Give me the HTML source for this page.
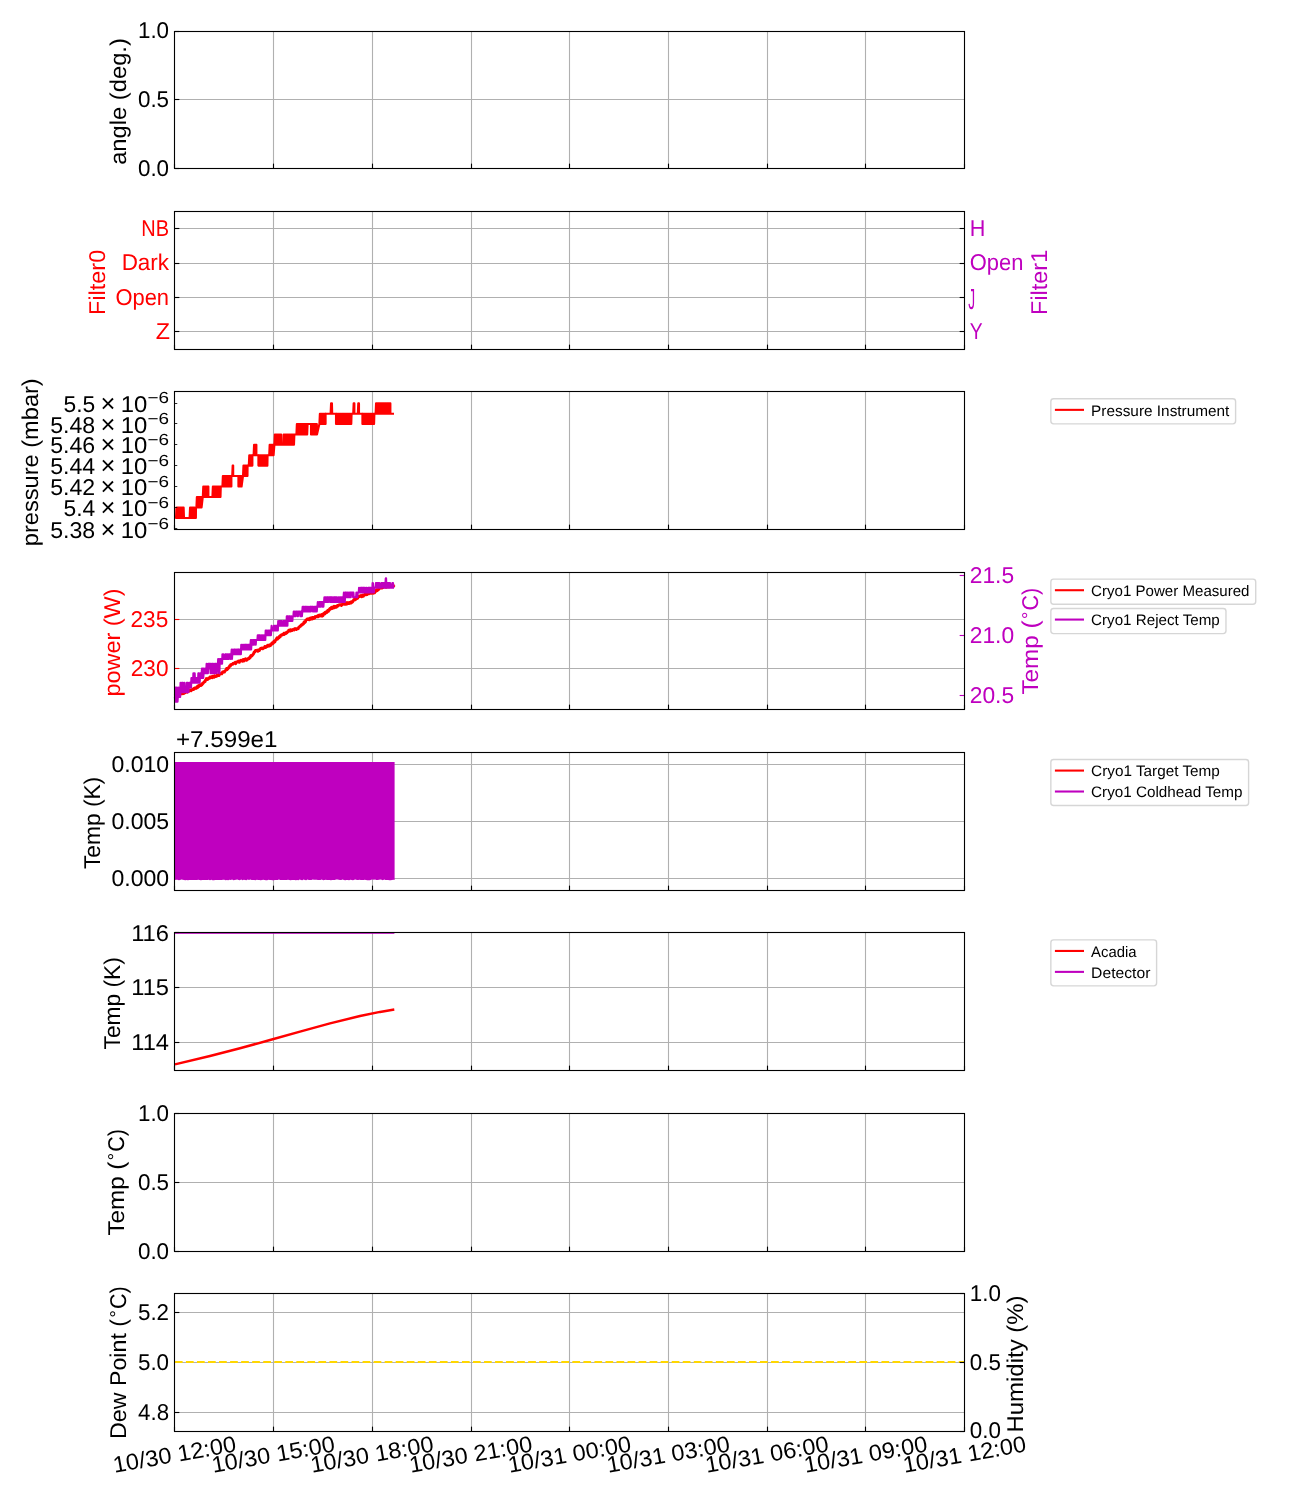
<!DOCTYPE html>
<html lang="en"><head><meta charset="utf-8"><title>Instrument telemetry</title>
<style>
html,body{margin:0;padding:0;background:#fff}
svg{display:block;will-change:transform}
svg text{font-family:"Liberation Sans",sans-serif;text-rendering:geometricPrecision}
</style></head><body>
<svg width="1300" height="1500" viewBox="0 0 1300 1500">
<rect width="1300" height="1500" fill="#fff"/>
<g id="axes">
<line x1="273.5" y1="31.5" x2="273.5" y2="168.5" stroke="#b0b0b0" stroke-width="1.11"/>
<line x1="372.5" y1="31.5" x2="372.5" y2="168.5" stroke="#b0b0b0" stroke-width="1.11"/>
<line x1="471.5" y1="31.5" x2="471.5" y2="168.5" stroke="#b0b0b0" stroke-width="1.11"/>
<line x1="569.5" y1="31.5" x2="569.5" y2="168.5" stroke="#b0b0b0" stroke-width="1.11"/>
<line x1="668.5" y1="31.5" x2="668.5" y2="168.5" stroke="#b0b0b0" stroke-width="1.11"/>
<line x1="767.5" y1="31.5" x2="767.5" y2="168.5" stroke="#b0b0b0" stroke-width="1.11"/>
<line x1="865.5" y1="31.5" x2="865.5" y2="168.5" stroke="#b0b0b0" stroke-width="1.11"/>
<line x1="174.5" y1="99.5" x2="964.5" y2="99.5" stroke="#b0b0b0" stroke-width="1.11"/>
<line x1="174.5" y1="168.5" x2="174.5" y2="163.64" stroke="#000" stroke-width="1.11"/>
<line x1="273.5" y1="168.5" x2="273.5" y2="163.64" stroke="#000" stroke-width="1.11"/>
<line x1="372.5" y1="168.5" x2="372.5" y2="163.64" stroke="#000" stroke-width="1.11"/>
<line x1="471.5" y1="168.5" x2="471.5" y2="163.64" stroke="#000" stroke-width="1.11"/>
<line x1="569.5" y1="168.5" x2="569.5" y2="163.64" stroke="#000" stroke-width="1.11"/>
<line x1="668.5" y1="168.5" x2="668.5" y2="163.64" stroke="#000" stroke-width="1.11"/>
<line x1="767.5" y1="168.5" x2="767.5" y2="163.64" stroke="#000" stroke-width="1.11"/>
<line x1="865.5" y1="168.5" x2="865.5" y2="163.64" stroke="#000" stroke-width="1.11"/>
<line x1="964.5" y1="168.5" x2="964.5" y2="163.64" stroke="#000" stroke-width="1.11"/>
<line x1="174.5" y1="31.5" x2="179.36" y2="31.5" stroke="#000" stroke-width="1.11"/>
<line x1="174.5" y1="99.5" x2="179.36" y2="99.5" stroke="#000" stroke-width="1.11"/>
<line x1="174.5" y1="168.5" x2="179.36" y2="168.5" stroke="#000" stroke-width="1.11"/>
<rect x="174.5" y="31.5" width="790.0" height="137" fill="none" stroke="#000" stroke-width="1.11"/>
<line x1="273.5" y1="211.5" x2="273.5" y2="349.5" stroke="#b0b0b0" stroke-width="1.11"/>
<line x1="372.5" y1="211.5" x2="372.5" y2="349.5" stroke="#b0b0b0" stroke-width="1.11"/>
<line x1="471.5" y1="211.5" x2="471.5" y2="349.5" stroke="#b0b0b0" stroke-width="1.11"/>
<line x1="569.5" y1="211.5" x2="569.5" y2="349.5" stroke="#b0b0b0" stroke-width="1.11"/>
<line x1="668.5" y1="211.5" x2="668.5" y2="349.5" stroke="#b0b0b0" stroke-width="1.11"/>
<line x1="767.5" y1="211.5" x2="767.5" y2="349.5" stroke="#b0b0b0" stroke-width="1.11"/>
<line x1="865.5" y1="211.5" x2="865.5" y2="349.5" stroke="#b0b0b0" stroke-width="1.11"/>
<line x1="174.5" y1="228.5" x2="964.5" y2="228.5" stroke="#b0b0b0" stroke-width="1.11"/>
<line x1="174.5" y1="263.5" x2="964.5" y2="263.5" stroke="#b0b0b0" stroke-width="1.11"/>
<line x1="174.5" y1="297.5" x2="964.5" y2="297.5" stroke="#b0b0b0" stroke-width="1.11"/>
<line x1="174.5" y1="331.5" x2="964.5" y2="331.5" stroke="#b0b0b0" stroke-width="1.11"/>
<line x1="174.5" y1="349.5" x2="174.5" y2="344.64" stroke="#000" stroke-width="1.11"/>
<line x1="273.5" y1="349.5" x2="273.5" y2="344.64" stroke="#000" stroke-width="1.11"/>
<line x1="372.5" y1="349.5" x2="372.5" y2="344.64" stroke="#000" stroke-width="1.11"/>
<line x1="471.5" y1="349.5" x2="471.5" y2="344.64" stroke="#000" stroke-width="1.11"/>
<line x1="569.5" y1="349.5" x2="569.5" y2="344.64" stroke="#000" stroke-width="1.11"/>
<line x1="668.5" y1="349.5" x2="668.5" y2="344.64" stroke="#000" stroke-width="1.11"/>
<line x1="767.5" y1="349.5" x2="767.5" y2="344.64" stroke="#000" stroke-width="1.11"/>
<line x1="865.5" y1="349.5" x2="865.5" y2="344.64" stroke="#000" stroke-width="1.11"/>
<line x1="964.5" y1="349.5" x2="964.5" y2="344.64" stroke="#000" stroke-width="1.11"/>
<line x1="174.5" y1="228.5" x2="179.36" y2="228.5" stroke="#000" stroke-width="1.11"/>
<line x1="174.5" y1="263.5" x2="179.36" y2="263.5" stroke="#000" stroke-width="1.11"/>
<line x1="174.5" y1="297.5" x2="179.36" y2="297.5" stroke="#000" stroke-width="1.11"/>
<line x1="174.5" y1="331.5" x2="179.36" y2="331.5" stroke="#000" stroke-width="1.11"/>
<line x1="964.5" y1="228.5" x2="959.64" y2="228.5" stroke="#000" stroke-width="1.11"/>
<line x1="964.5" y1="263.5" x2="959.64" y2="263.5" stroke="#000" stroke-width="1.11"/>
<line x1="964.5" y1="297.5" x2="959.64" y2="297.5" stroke="#000" stroke-width="1.11"/>
<line x1="964.5" y1="331.5" x2="959.64" y2="331.5" stroke="#000" stroke-width="1.11"/>
<rect x="174.5" y="211.5" width="790.0" height="138" fill="none" stroke="#000" stroke-width="1.11"/>
<line x1="273.5" y1="391.5" x2="273.5" y2="529.5" stroke="#b0b0b0" stroke-width="1.11"/>
<line x1="372.5" y1="391.5" x2="372.5" y2="529.5" stroke="#b0b0b0" stroke-width="1.11"/>
<line x1="471.5" y1="391.5" x2="471.5" y2="529.5" stroke="#b0b0b0" stroke-width="1.11"/>
<line x1="569.5" y1="391.5" x2="569.5" y2="529.5" stroke="#b0b0b0" stroke-width="1.11"/>
<line x1="668.5" y1="391.5" x2="668.5" y2="529.5" stroke="#b0b0b0" stroke-width="1.11"/>
<line x1="767.5" y1="391.5" x2="767.5" y2="529.5" stroke="#b0b0b0" stroke-width="1.11"/>
<line x1="865.5" y1="391.5" x2="865.5" y2="529.5" stroke="#b0b0b0" stroke-width="1.11"/>
<path d="M175.2,517.97 L176,517.97 L176.45,507.46 L176.9,517.97 L177.35,507.46 L177.8,517.97 L178.25,507.46 L178.7,517.97 L179.15,507.46 L179.6,517.97 L180.05,507.46 L180.5,517.97 L180.95,507.46 L181.4,517.97 L181.85,507.46 L182.3,517.97 L182.75,507.46 L183.2,517.97 L183.65,507.46 L184,517.97 L184,517.97 L189.6,517.97 L189.6,517.97 L190.05,507.46 L190.5,517.97 L190.95,507.46 L191.4,517.97 L191.85,507.46 L192.3,517.97 L192.75,507.46 L193.2,517.97 L193.65,507.46 L194.1,517.97 L194.55,507.46 L195,517.97 L195.45,507.46 L195.9,517.97 L196,507.46 L196.4,507.46 L196.85,496.97 L197.3,507.46 L197.75,496.97 L198.2,507.46 L198.65,496.97 L199.1,507.46 L199.55,496.97 L200,507.46 L200.45,496.97 L200.9,507.46 L201.35,496.97 L201.6,507.46 L202.8,496.97 L203.25,486.49 L203.7,496.97 L204.15,486.49 L204.6,496.97 L205.05,486.49 L205.5,496.97 L205.95,486.49 L206.4,496.97 L206.85,486.49 L207.3,496.97 L207.75,486.49 L208.2,496.97 L208.4,486.49 L208.4,496.97 L212.4,496.97 L212.4,496.97 L212.85,486.49 L213.3,496.97 L213.75,486.49 L214.2,496.97 L214.65,486.49 L215.1,496.97 L215.55,486.49 L216,496.97 L216.45,486.49 L216.9,496.97 L217.35,486.49 L217.8,496.97 L218.25,486.49 L218.7,496.97 L219.15,486.49 L219.6,496.97 L220.05,486.49 L220.5,496.97 L220.8,486.49 L222.4,486.49 L222.85,476.04 L223.3,486.49 L223.75,476.04 L224.2,486.49 L224.65,476.04 L225.1,486.49 L225.55,476.04 L226,486.49 L226.45,476.04 L226.9,486.49 L227.35,476.04 L227.8,486.49 L228.25,476.04 L228.7,486.49 L229.15,476.04 L229.6,486.49 L230.05,476.04 L230.5,486.49 L230.95,476.04 L231.4,486.49 L231.4,476.04 L231.4,476.04 L232.2,476.04 L232.2,476.04 L232.65,465.61 L233.1,476.04 L233.2,465.61 L233.2,476.04 L238.4,476.04 L238.4,486.49 L238.85,476.04 L239.3,486.49 L239.75,476.04 L240.2,486.49 L240.65,476.04 L241.1,486.49 L241.55,476.04 L241.6,486.49 L243,476.04 L243.45,465.61 L243.9,476.04 L244.35,465.61 L244.8,476.04 L245.25,465.61 L245.7,476.04 L246.15,465.61 L246.6,476.04 L247.05,465.61 L247.5,476.04 L247.6,465.61 L248.8,465.61 L249.25,455.19 L249.7,465.61 L250.15,455.19 L250.6,465.61 L251.05,455.19 L251.5,465.61 L251.95,455.19 L252.4,465.61 L252.4,455.19 L252.4,455.19 L253.6,455.19 L253.6,455.19 L254.05,444.8 L254.5,455.19 L254.95,444.8 L255.4,455.19 L255.85,444.8 L256.3,455.19 L256.4,444.8 L256.4,455.19 L258.4,455.19 L258.4,465.61 L258.85,455.19 L259.3,465.61 L259.75,455.19 L260.2,465.61 L260.65,455.19 L261.1,465.61 L261.55,455.19 L262,465.61 L262.45,455.19 L262.9,465.61 L263.35,455.19 L263.8,465.61 L264.25,455.19 L264.7,465.61 L265.15,455.19 L265.6,465.61 L266.05,455.19 L266.5,465.61 L266.95,455.19 L267.4,465.61 L267.6,455.19 L269.2,455.19 L269.65,444.8 L270.1,455.19 L270.55,444.8 L271,455.19 L271.45,444.8 L271.9,455.19 L272.35,444.8 L272.8,455.19 L273.25,444.8 L273.6,455.19 L274.4,444.8 L274.85,434.42 L275.3,444.8 L275.75,434.42 L276.2,444.8 L276.65,434.42 L277.1,444.8 L277.55,434.42 L278,444.8 L278.45,434.42 L278.9,444.8 L279.35,434.42 L279.8,444.8 L280.25,434.42 L280.7,444.8 L281.15,434.42 L281.2,444.8 L283.2,444.8 L283.65,434.42 L284.1,444.8 L284.55,434.42 L285,444.8 L285.45,434.42 L285.9,444.8 L286.35,434.42 L286.8,444.8 L287.25,434.42 L287.7,444.8 L288.15,434.42 L288.6,444.8 L289.05,434.42 L289.5,444.8 L289.95,434.42 L290.4,444.8 L290.85,434.42 L291.3,444.8 L291.75,434.42 L292.2,444.8 L292.65,434.42 L293.1,444.8 L293.55,434.42 L294,444.8 L294.4,434.42 L296.4,434.42 L296.85,424.06 L297.3,434.42 L297.75,424.06 L298.2,434.42 L298.65,424.06 L299.1,434.42 L299.55,424.06 L300,434.42 L300.45,424.06 L300.9,434.42 L301.35,424.06 L301.8,434.42 L302.25,424.06 L302.7,434.42 L303.15,424.06 L303.6,434.42 L304.05,424.06 L304.5,434.42 L304.95,424.06 L305.4,434.42 L305.85,424.06 L306.3,434.42 L306.75,424.06 L307.2,434.42 L307.6,424.06 L307.6,424.06 L311,424.06 L311,434.42 L311.45,424.06 L311.9,434.42 L312.35,424.06 L312.8,434.42 L313.25,424.06 L313.7,434.42 L314.15,424.06 L314.6,434.42 L315.05,424.06 L315.5,434.42 L315.95,424.06 L316.4,434.42 L316.85,424.06 L317,434.42 L319.4,424.06 L319.85,413.72 L320.3,424.06 L320.75,413.72 L321.2,424.06 L321.65,413.72 L322.1,424.06 L322.55,413.72 L323,424.06 L323.45,413.72 L323.9,424.06 L324.35,413.72 L324.8,424.06 L325.25,413.72 L325.6,424.06 L325.6,413.72 L330.6,413.72 L330.6,413.72 L331.05,403.4 L331.5,413.72 L331.95,403.4 L332.2,413.72 L332.2,413.72 L336,413.72 L336,424.06 L336.45,413.72 L336.9,424.06 L337.35,413.72 L337.8,424.06 L338.25,413.72 L338.7,424.06 L339.15,413.72 L339.6,424.06 L340.05,413.72 L340.5,424.06 L340.95,413.72 L341.4,424.06 L341.85,413.72 L342.3,424.06 L342.75,413.72 L343.2,424.06 L343.65,413.72 L344.1,424.06 L344.55,413.72 L345,424.06 L345.45,413.72 L345.9,424.06 L346.35,413.72 L346.8,424.06 L347.25,413.72 L347.7,424.06 L348.15,413.72 L348.6,424.06 L349.05,413.72 L349.5,424.06 L349.95,413.72 L350.4,424.06 L350.85,413.72 L351.3,424.06 L351.6,413.72 L351.6,413.72 L353.2,413.72 L353.2,413.72 L353.65,403.4 L354.1,413.72 L354.4,403.4 L354.4,413.72 L357.8,413.72 L357.8,413.72 L358.25,403.4 L358.7,413.72 L359,403.4 L359,413.72 L362.4,413.72 L362.4,424.06 L362.85,413.72 L363.3,424.06 L363.75,413.72 L364.2,424.06 L364.65,413.72 L365.1,424.06 L365.55,413.72 L366,424.06 L366.45,413.72 L366.9,424.06 L367.35,413.72 L367.8,424.06 L368.25,413.72 L368.7,424.06 L369.15,413.72 L369.6,424.06 L370.05,413.72 L370.5,424.06 L370.95,413.72 L371.4,424.06 L371.85,413.72 L372.3,424.06 L372.75,413.72 L373.2,424.06 L373.65,413.72 L374.1,424.06 L374.4,413.72 L375.6,413.72 L376.05,403.4 L376.5,413.72 L376.95,403.4 L377.4,413.72 L377.85,403.4 L378.3,413.72 L378.75,403.4 L379.2,413.72 L379.65,403.4 L380.1,413.72 L380.55,403.4 L381,413.72 L381.45,403.4 L381.9,413.72 L382.35,403.4 L382.8,413.72 L383.25,403.4 L383.7,413.72 L384.15,403.4 L384.6,413.72 L385.05,403.4 L385.5,413.72 L385.95,403.4 L386.4,413.72 L386.85,403.4 L387.3,413.72 L387.75,403.4 L388.2,413.72 L388.65,403.4 L389.1,413.72 L389.55,403.4 L390,413.72 L390.4,403.4 L390.4,413.72 L394,413.72" fill="none" stroke="#ff0000" stroke-width="2.08" stroke-linejoin="round" stroke-linecap="butt"/>
<line x1="174.5" y1="529.5" x2="174.5" y2="524.64" stroke="#000" stroke-width="1.11"/>
<line x1="273.5" y1="529.5" x2="273.5" y2="524.64" stroke="#000" stroke-width="1.11"/>
<line x1="372.5" y1="529.5" x2="372.5" y2="524.64" stroke="#000" stroke-width="1.11"/>
<line x1="471.5" y1="529.5" x2="471.5" y2="524.64" stroke="#000" stroke-width="1.11"/>
<line x1="569.5" y1="529.5" x2="569.5" y2="524.64" stroke="#000" stroke-width="1.11"/>
<line x1="668.5" y1="529.5" x2="668.5" y2="524.64" stroke="#000" stroke-width="1.11"/>
<line x1="767.5" y1="529.5" x2="767.5" y2="524.64" stroke="#000" stroke-width="1.11"/>
<line x1="865.5" y1="529.5" x2="865.5" y2="524.64" stroke="#000" stroke-width="1.11"/>
<line x1="964.5" y1="529.5" x2="964.5" y2="524.64" stroke="#000" stroke-width="1.11"/>
<line x1="174.5" y1="403.5" x2="177.28" y2="403.5" stroke="#000" stroke-width="0.83"/>
<line x1="174.5" y1="423.5" x2="177.28" y2="423.5" stroke="#000" stroke-width="0.83"/>
<line x1="174.5" y1="444.5" x2="177.28" y2="444.5" stroke="#000" stroke-width="0.83"/>
<line x1="174.5" y1="465.5" x2="177.28" y2="465.5" stroke="#000" stroke-width="0.83"/>
<line x1="174.5" y1="486.5" x2="177.28" y2="486.5" stroke="#000" stroke-width="0.83"/>
<line x1="174.5" y1="507.5" x2="177.28" y2="507.5" stroke="#000" stroke-width="0.83"/>
<line x1="174.5" y1="528.5" x2="177.28" y2="528.5" stroke="#000" stroke-width="0.83"/>
<rect x="174.5" y="391.5" width="790.0" height="138" fill="none" stroke="#000" stroke-width="1.11"/>
<line x1="273.5" y1="572.5" x2="273.5" y2="709.5" stroke="#b0b0b0" stroke-width="1.11"/>
<line x1="372.5" y1="572.5" x2="372.5" y2="709.5" stroke="#b0b0b0" stroke-width="1.11"/>
<line x1="471.5" y1="572.5" x2="471.5" y2="709.5" stroke="#b0b0b0" stroke-width="1.11"/>
<line x1="569.5" y1="572.5" x2="569.5" y2="709.5" stroke="#b0b0b0" stroke-width="1.11"/>
<line x1="668.5" y1="572.5" x2="668.5" y2="709.5" stroke="#b0b0b0" stroke-width="1.11"/>
<line x1="767.5" y1="572.5" x2="767.5" y2="709.5" stroke="#b0b0b0" stroke-width="1.11"/>
<line x1="865.5" y1="572.5" x2="865.5" y2="709.5" stroke="#b0b0b0" stroke-width="1.11"/>
<line x1="174.5" y1="619.5" x2="964.5" y2="619.5" stroke="#b0b0b0" stroke-width="1.11"/>
<line x1="174.5" y1="668.5" x2="964.5" y2="668.5" stroke="#b0b0b0" stroke-width="1.11"/>
<path d="M174.9,696 L175.35,695.47 L175.8,696.08 L176.25,694.85 L176.7,695.4 L177.15,694.87 L177.6,694.1 L178.05,694.63 L178.5,693.59 L178.95,694.02 L179.4,693.21 L179.85,693.1 L180.3,693.53 L180.75,694.08 L181.2,692.74 L181.65,692.77 L182.1,693.32 L182.55,693.73 L183,692.96 L183.45,692.51 L183.9,693.36 L184.35,691.64 L184.8,692.88 L185.25,691.78 L185.7,691.39 L186.15,691.21 L186.6,691.39 L187.05,692.12 L187.5,690.9 L187.95,691.44 L188.4,691.4 L188.85,690.81 L189.3,690.97 L189.75,690 L190.2,689.86 L190.65,689.97 L191.1,690.64 L191.55,689.99 L192,689.55 L192.45,689.77 L192.9,689.3 L193.35,688.8 L193.8,689.4 L194.25,688.99 L194.7,687.98 L195.15,688.3 L195.6,687.97 L196.05,688.32 L196.5,687.83 L196.95,686.84 L197.4,687.77 L197.85,686.06 L198.3,686.33 L198.75,686.67 L199.2,685.39 L199.65,685.72 L200.1,684.72 L200.55,685.54 L201,685.47 L201.45,684.87 L201.9,684.89 L202.35,683.45 L202.8,683.6 L203.25,682.94 L203.7,682.43 L204.15,681.73 L204.6,681.89 L205.05,681.57 L205.5,680.28 L205.95,680.12 L206.4,678.6 L206.85,679.2 L207.3,678.93 L207.75,679.37 L208.2,678.94 L208.65,677.89 L209.1,677.92 L209.55,678.26 L210,677.02 L210.45,677.63 L210.9,676.99 L211.35,676.77 L211.8,676.53 L212.25,677.59 L212.7,676.37 L213.15,676.43 L213.6,676.53 L214.05,677.21 L214.5,675.71 L214.95,676.17 L215.4,676.17 L215.85,676.57 L216.3,676.29 L216.75,676.19 L217.2,675.03 L217.65,675.09 L218.1,674.82 L218.55,675.55 L219,675.5 L219.45,673.96 L219.9,673.83 L220.35,673.76 L220.8,673.59 L221.25,673.84 L221.7,673.85 L222.15,672.89 L222.6,672.05 L223.05,672.34 L223.5,671.85 L223.95,671.78 L224.4,672.03 L224.85,671.18 L225.3,670.48 L225.75,670.25 L226.2,669.94 L226.65,668.48 L227.1,669.51 L227.55,668.9 L228,668.65 L228.45,668.12 L228.9,667.02 L229.35,666.63 L229.8,665.72 L230.25,666.21 L230.7,664.84 L231.15,664.54 L231.6,664.55 L232.05,664.25 L232.5,664.33 L232.95,663.61 L233.4,663.3 L233.85,663.33 L234.3,663.02 L234.75,663.24 L235.2,662.44 L235.65,663.66 L236.1,662.99 L236.55,661.98 L237,661.93 L237.45,661.87 L237.9,661.67 L238.35,661.05 L238.8,662.16 L239.25,662.28 L239.7,661.26 L240.15,661.16 L240.6,660.36 L241.05,660.27 L241.5,660.55 L241.95,660.3 L242.4,661.13 L242.85,659.88 L243.3,659.52 L243.75,660.97 L244.2,660.13 L244.65,659.36 L245.1,659.91 L245.55,658.91 L246,659.63 L246.45,660.28 L246.9,659.96 L247.35,659.55 L247.8,658.69 L248.25,658.74 L248.7,658.11 L249.15,658.63 L249.6,657.72 L250.05,657.63 L250.5,656.36 L250.95,655.68 L251.4,656.17 L251.85,655.96 L252.3,655.23 L252.75,654.65 L253.2,654.16 L253.65,653.52 L254.1,652.15 L254.55,652.14 L255,651.35 L255.45,650.6 L255.9,650.39 L256.35,650.61 L256.8,650.38 L257.25,650.91 L257.7,651.16 L258.15,650.09 L258.6,650.72 L259.05,650.6 L259.5,650.34 L259.95,649.13 L260.4,648.68 L260.85,648.49 L261.3,648.24 L261.75,648.05 L262.2,648.56 L262.65,648.83 L263.1,648.53 L263.55,647.71 L264,647.81 L264.45,647.86 L264.9,646.45 L265.35,647.23 L265.8,647.45 L266.25,647.04 L266.7,646.79 L267.15,646.12 L267.6,645.42 L268.05,646.26 L268.5,645.28 L268.95,645.88 L269.4,645.97 L269.85,644.79 L270.3,644.61 L270.75,645.33 L271.2,644.76 L271.65,643.59 L272.1,643.07 L272.55,642.66 L273,643.49 L273.45,642.87 L273.9,641.3 L274.35,642.01 L274.8,641.82 L275.25,640.82 L275.7,639.85 L276.15,639.73 L276.6,638.57 L277.05,637.92 L277.5,639.1 L277.95,638.1 L278.4,637.45 L278.85,637.69 L279.3,636.51 L279.75,637 L280.2,636.66 L280.65,635.35 L281.1,635.16 L281.55,634.97 L282,634.62 L282.45,634.95 L282.9,634.14 L283.35,634.15 L283.8,633.4 L284.25,634.46 L284.7,633.25 L285.15,633.17 L285.6,633.12 L286.05,633.41 L286.5,632.33 L286.95,632.91 L287.4,631.94 L287.85,631.73 L288.3,631.46 L288.75,630.34 L289.2,630.8 L289.65,630.24 L290.1,629.81 L290.55,631.03 L291,629.84 L291.45,630.23 L291.9,630.53 L292.35,630.12 L292.8,629.61 L293.25,629.81 L293.7,629.75 L294.15,630.01 L294.6,628.73 L295.05,629.38 L295.5,628.73 L295.95,628.65 L296.4,629.37 L296.85,628.79 L297.3,628.76 L297.75,628.81 L298.2,628.65 L298.65,627.43 L299.1,627.29 L299.55,626.69 L300,626.28 L300.45,626.17 L300.9,625.34 L301.35,625.05 L301.8,624.54 L302.25,624.91 L302.7,624.07 L303.15,623.95 L303.6,623.65 L304.05,622.06 L304.5,622.15 L304.95,622.38 L305.4,621.79 L305.85,620.17 L306.3,619.72 L306.75,619.85 L307.2,619.04 L307.65,619.18 L308.1,618.75 L308.55,619.62 L309,619.66 L309.45,619.71 L309.9,618.3 L310.35,619.11 L310.8,618.87 L311.25,617.84 L311.7,618.95 L312.15,618.95 L312.6,617.53 L313.05,618.63 L313.5,617.54 L313.95,617.54 L314.4,618.25 L314.85,617.83 L315.3,616.55 L315.75,616.86 L316.2,616.86 L316.65,616.41 L317.1,616.03 L317.55,616.13 L318,616.7 L318.45,615.4 L318.9,616.19 L319.35,615.89 L319.8,615.06 L320.25,615.48 L320.7,615.86 L321.15,615.56 L321.6,614.68 L322.05,616.14 L322.5,615.69 L322.95,615.64 L323.4,613.81 L323.85,613.73 L324.3,612.99 L324.75,613.89 L325.2,612.67 L325.65,612.07 L326.1,612.21 L326.55,612.69 L327,612.17 L327.45,610.86 L327.9,610.32 L328.35,611.27 L328.8,610.32 L329.25,610.18 L329.7,608.79 L330.15,608.38 L330.6,609.09 L331.05,608.29 L331.5,607.33 L331.95,608.57 L332.4,607.92 L332.85,608.06 L333.3,606.71 L333.75,607.88 L334.2,606.4 L334.65,607.62 L335.1,606.79 L335.55,606.45 L336,606.68 L336.45,607.18 L336.9,605.92 L337.35,605.55 L337.8,606.09 L338.25,605.46 L338.7,605.11 L339.15,605.06 L339.6,604.73 L340.05,604.85 L340.5,604.9 L340.95,604.75 L341.4,605.4 L341.85,604.47 L342.3,604.7 L342.75,604.02 L343.2,604.18 L343.65,603.49 L344.1,603.75 L344.55,603.22 L345,604.31 L345.45,603.88 L345.9,603.13 L346.35,603.49 L346.8,604.14 L347.25,602.6 L347.7,603.68 L348.15,602.89 L348.6,602.87 L349.05,603.32 L349.5,602.44 L349.95,602.5 L350.4,602.68 L350.85,603.05 L351.3,601.83 L351.75,602.54 L352.2,602.09 L352.65,601.62 L353.1,600.87 L353.55,600.42 L354,599.57 L354.45,599.35 L354.9,598.89 L355.35,599.68 L355.8,598.5 L356.25,597.99 L356.7,597.51 L357.15,598.44 L357.6,598.14 L358.05,597.44 L358.5,596.43 L358.95,596.24 L359.4,596.2 L359.85,596.36 L360.3,595.72 L360.75,596.08 L361.2,595.65 L361.65,596.71 L362.1,596.61 L362.55,595.76 L363,595.12 L363.45,596.22 L363.9,594.98 L364.35,594.94 L364.8,594.21 L365.25,594.73 L365.7,594.76 L366.15,594.68 L366.6,594.05 L367.05,594.43 L367.5,593.44 L367.95,593.74 L368.4,593.31 L368.85,593.69 L369.3,592.94 L369.75,592.77 L370.2,593.11 L370.65,592.85 L371.1,593.31 L371.55,593.07 L372,593.31 L372.45,593.01 L372.9,592.97 L373.35,593.11 L373.8,592.14 L374.25,591.87 L374.7,592.66 L375.15,590.91 L375.6,591.55 L376.05,591.08 L376.5,589.74 L376.95,590.75 L377.4,590.52 L377.85,589.74 L378.3,589.59 L378.75,589.39 L379.2,587.91 L379.65,588.24 L380.1,587.87 L380.55,588.11 L381,587.96 L381.45,587.93 L381.9,587.45 L382.35,587.91 L382.8,587.49 L383.25,587.44 L383.7,586.59 L384.15,586.18 L384.6,586.29 L385.05,586.61 L385.5,586.11 L385.95,587.29 L386.4,586.75 L386.85,586.8 L387.3,586.74 L387.75,586.76 L388.2,586.37 L388.65,585.48 L389.1,586.77 L389.55,586.62 L390,586.13 L390.45,586.12 L390.9,586.27 L391.35,585.19 L391.8,586.27 L392.25,585.38 L392.7,585.01 L393.15,585.27 L393.6,585.99 L394.05,585.04" fill="none" stroke="#ff0000" stroke-width="3.0" stroke-linejoin="round"/>
<path d="M174.9,697.04 L175.23,701.79 L175.56,687.54 L175.89,687.54 L176.22,701.79 L176.55,701.79 L176.88,687.54 L177.21,701.79 L177.54,701.79 L177.87,697.04 L178.2,692.29 L178.53,687.54 L178.86,697.04 L179.19,697.04 L179.52,687.54 L179.85,692.29 L180.18,697.04 L180.51,682.79 L180.84,687.54 L181.17,692.29 L181.5,692.29 L181.83,682.79 L182.16,692.29 L182.49,682.79 L182.82,682.79 L183.15,692.29 L183.48,692.29 L183.81,687.54 L184.14,682.79 L184.47,682.79 L184.8,692.29 L185.13,687.54 L185.46,687.54 L185.79,687.54 L186.12,687.54 L186.45,692.29 L186.78,682.79 L187.11,692.29 L187.44,682.79 L187.77,682.79 L188.1,692.29 L188.43,692.29 L188.76,687.54 L189.09,682.79 L189.42,687.54 L189.75,682.79 L190.08,682.79 L190.41,687.54 L190.74,682.79 L191.07,687.54 L191.4,678.04 L191.73,678.04 L192.06,682.79 L192.39,678.04 L192.72,682.79 L193.05,682.79 L193.38,673.29 L193.71,678.04 L194.04,682.79 L194.37,673.29 L194.7,673.29 L195.03,682.79 L195.36,678.04 L195.69,682.79 L196.02,678.04 L196.35,678.04 L196.68,682.79 L197.01,678.04 L197.34,682.79 L197.67,682.79 L198,682.79 L198.33,673.29 L198.66,682.79 L198.99,673.29 L199.32,682.79 L199.65,682.79 L199.98,678.04 L200.31,673.29 L200.64,678.04 L200.97,678.04 L201.3,673.29 L201.63,673.29 L201.96,668.54 L202.29,678.04 L202.62,673.29 L202.95,668.54 L203.28,678.04 L203.61,673.29 L203.94,668.54 L204.27,673.29 L204.6,673.29 L204.93,673.29 L205.26,668.54 L205.59,668.54 L205.92,673.29 L206.25,673.29 L206.58,663.79 L206.91,668.54 L207.24,668.54 L207.57,673.29 L207.9,673.29 L208.23,663.79 L208.56,663.79 L208.89,668.54 L209.22,663.79 L209.55,663.79 L209.88,668.54 L210.21,663.79 L210.54,673.29 L210.87,668.54 L211.2,663.79 L211.53,673.29 L211.86,668.54 L212.19,673.29 L212.52,663.79 L212.85,673.29 L213.18,663.79 L213.51,673.29 L213.84,673.29 L214.17,668.54 L214.5,673.29 L214.83,663.79 L215.16,668.54 L215.49,663.79 L215.82,673.29 L216.15,668.54 L216.48,663.79 L216.81,673.29 L217.14,668.54 L217.47,668.54 L217.8,668.54 L218.13,659.04 L218.46,659.04 L218.79,668.54 L219.12,673.29 L219.45,673.29 L219.78,659.04 L220.11,659.04 L220.44,659.04 L220.77,659.04 L221.1,659.04 L221.43,663.79 L221.76,663.79 L222.09,663.79 L222.42,654.29 L222.75,659.04 L223.08,659.04 L223.41,654.29 L223.74,659.04 L224.07,659.04 L224.4,659.04 L224.73,659.04 L225.06,659.04 L225.39,654.29 L225.72,659.04 L226.05,654.29 L226.38,659.04 L226.71,659.04 L227.04,654.29 L227.37,659.04 L227.7,659.04 L228.03,654.29 L228.36,659.04 L228.69,659.04 L229.02,654.29 L229.35,654.29 L229.68,654.29 L230.01,654.29 L230.34,659.04 L230.67,654.29 L231,654.29 L231.33,654.29 L231.66,649.54 L231.99,659.04 L232.32,654.29 L232.65,654.29 L232.98,649.54 L233.31,654.29 L233.64,654.29 L233.97,654.29 L234.3,649.54 L234.63,654.29 L234.96,649.54 L235.29,649.54 L235.62,654.29 L235.95,654.29 L236.28,654.29 L236.61,649.54 L236.94,654.29 L237.27,654.29 L237.6,649.54 L237.93,654.29 L238.26,649.54 L238.59,654.29 L238.92,649.54 L239.25,654.29 L239.58,654.29 L239.91,649.54 L240.24,654.29 L240.57,649.54 L240.9,654.29 L241.23,644.79 L241.56,649.54 L241.89,649.54 L242.22,644.79 L242.55,649.54 L242.88,649.54 L243.21,649.54 L243.54,644.79 L243.87,649.54 L244.2,649.54 L244.53,644.79 L244.86,644.79 L245.19,644.79 L245.52,649.54 L245.85,644.79 L246.18,649.54 L246.51,644.79 L246.84,649.54 L247.17,649.54 L247.5,644.79 L247.83,649.54 L248.16,649.54 L248.49,644.79 L248.82,649.54 L249.15,644.79 L249.48,649.54 L249.81,644.79 L250.14,649.54 L250.47,644.79 L250.8,640.04 L251.13,649.54 L251.46,644.79 L251.79,640.04 L252.12,644.79 L252.45,644.79 L252.78,640.04 L253.11,640.04 L253.44,644.79 L253.77,640.04 L254.1,644.79 L254.43,640.04 L254.76,640.04 L255.09,640.04 L255.42,640.04 L255.75,644.79 L256.08,640.04 L256.41,640.04 L256.74,640.04 L257.07,640.04 L257.4,640.04 L257.73,635.29 L258.06,635.29 L258.39,635.29 L258.72,640.04 L259.05,635.29 L259.38,635.29 L259.71,640.04 L260.04,635.29 L260.37,640.04 L260.7,640.04 L261.03,640.04 L261.36,640.04 L261.69,635.29 L262.02,635.29 L262.35,635.29 L262.68,640.04 L263.01,640.04 L263.34,640.04 L263.67,635.29 L264,635.29 L264.33,640.04 L264.66,640.04 L264.99,635.29 L265.32,640.04 L265.65,630.54 L265.98,635.29 L266.31,630.54 L266.64,635.29 L266.97,635.29 L267.3,630.54 L267.63,635.29 L267.96,635.29 L268.29,635.29 L268.62,630.54 L268.95,635.29 L269.28,630.54 L269.61,635.29 L269.94,635.29 L270.27,630.54 L270.6,635.29 L270.93,635.29 L271.26,630.54 L271.59,625.79 L271.92,630.54 L272.25,630.54 L272.58,630.54 L272.91,630.54 L273.24,630.54 L273.57,630.54 L273.9,625.79 L274.23,625.79 L274.56,625.79 L274.89,630.54 L275.22,630.54 L275.55,625.79 L275.88,625.79 L276.21,625.79 L276.54,630.54 L276.87,625.79 L277.2,625.79 L277.53,625.79 L277.86,630.54 L278.19,621.04 L278.52,625.79 L278.85,625.79 L279.18,625.79 L279.51,621.04 L279.84,625.79 L280.17,621.04 L280.5,625.79 L280.83,621.04 L281.16,625.79 L281.49,621.04 L281.82,625.79 L282.15,625.79 L282.48,625.79 L282.81,625.79 L283.14,621.04 L283.47,621.04 L283.8,625.79 L284.13,621.04 L284.46,621.04 L284.79,625.79 L285.12,621.04 L285.45,621.04 L285.78,625.79 L286.11,621.04 L286.44,625.79 L286.77,616.29 L287.1,616.29 L287.43,625.79 L287.76,616.29 L288.09,616.29 L288.42,621.04 L288.75,621.04 L289.08,616.29 L289.41,616.29 L289.74,621.04 L290.07,616.29 L290.4,621.04 L290.73,621.04 L291.06,621.04 L291.39,616.29 L291.72,621.04 L292.05,621.04 L292.38,621.04 L292.71,616.29 L293.04,616.29 L293.37,616.29 L293.7,611.54 L294.03,616.29 L294.36,616.29 L294.69,611.54 L295.02,611.54 L295.35,616.29 L295.68,616.29 L296.01,611.54 L296.34,611.54 L296.67,611.54 L297,611.54 L297.33,611.54 L297.66,616.29 L297.99,616.29 L298.32,611.54 L298.65,611.54 L298.98,611.54 L299.31,611.54 L299.64,611.54 L299.97,611.54 L300.3,616.29 L300.63,616.29 L300.96,611.54 L301.29,611.54 L301.62,616.29 L301.95,616.29 L302.28,611.54 L302.61,606.79 L302.94,606.79 L303.27,611.54 L303.6,606.79 L303.93,606.79 L304.26,611.54 L304.59,611.54 L304.92,606.79 L305.25,611.54 L305.58,606.79 L305.91,611.54 L306.24,611.54 L306.57,606.79 L306.9,606.79 L307.23,611.54 L307.56,611.54 L307.89,606.79 L308.22,606.79 L308.55,611.54 L308.88,611.54 L309.21,611.54 L309.54,611.54 L309.87,606.79 L310.2,611.54 L310.53,606.79 L310.86,611.54 L311.19,606.79 L311.52,606.79 L311.85,606.79 L312.18,606.79 L312.51,606.79 L312.84,611.54 L313.17,606.79 L313.5,611.54 L313.83,611.54 L314.16,611.54 L314.49,606.79 L314.82,606.79 L315.15,606.79 L315.48,611.54 L315.81,606.79 L316.14,606.79 L316.47,606.79 L316.8,611.54 L317.13,606.79 L317.46,606.79 L317.79,602.04 L318.12,606.79 L318.45,606.79 L318.78,606.79 L319.11,602.04 L319.44,606.79 L319.77,602.04 L320.1,606.79 L320.43,602.04 L320.76,606.79 L321.09,602.04 L321.42,602.04 L321.75,602.04 L322.08,602.04 L322.41,606.79 L322.74,602.04 L323.07,606.79 L323.4,606.79 L323.73,602.04 L324.06,602.04 L324.39,597.29 L324.72,602.04 L325.05,602.04 L325.38,597.29 L325.71,597.29 L326.04,597.29 L326.37,602.04 L326.7,602.04 L327.03,597.29 L327.36,602.04 L327.69,597.29 L328.02,602.04 L328.35,602.04 L328.68,597.29 L329.01,597.29 L329.34,597.29 L329.67,597.29 L330,602.04 L330.33,597.29 L330.66,602.04 L330.99,597.29 L331.32,597.29 L331.65,602.04 L331.98,597.29 L332.31,597.29 L332.64,602.04 L332.97,602.04 L333.3,602.04 L333.63,597.29 L333.96,597.29 L334.29,602.04 L334.62,597.29 L334.95,602.04 L335.28,597.29 L335.61,597.29 L335.94,597.29 L336.27,602.04 L336.6,597.29 L336.93,597.29 L337.26,602.04 L337.59,602.04 L337.92,602.04 L338.25,602.04 L338.58,597.29 L338.91,597.29 L339.24,597.29 L339.57,602.04 L339.9,602.04 L340.23,597.29 L340.56,597.29 L340.89,602.04 L341.22,602.04 L341.55,597.29 L341.88,597.29 L342.21,597.29 L342.54,602.04 L342.87,602.04 L343.2,597.29 L343.53,597.29 L343.86,592.54 L344.19,602.04 L344.52,597.29 L344.85,602.04 L345.18,592.54 L345.51,597.29 L345.84,592.54 L346.17,597.29 L346.5,597.29 L346.83,592.54 L347.16,592.54 L347.49,592.54 L347.82,597.29 L348.15,597.29 L348.48,597.29 L348.81,592.54 L349.14,597.29 L349.47,597.29 L349.8,592.54 L350.13,592.54 L350.46,592.54 L350.79,597.29 L351.12,592.54 L351.45,592.54 L351.78,592.54 L352.11,592.54 L352.44,592.54 L352.77,592.54 L353.1,597.29 L353.43,592.54 L353.76,597.29 L354.09,597.29 L354.42,597.29 L354.75,597.29 L355.08,597.29 L355.41,597.29 L355.74,597.29 L356.07,597.29 L356.4,592.54 L356.73,597.29 L357.06,597.29 L357.39,597.29 L357.72,592.54 L358.05,592.54 L358.38,592.54 L358.71,592.54 L359.04,587.79 L359.37,592.54 L359.7,592.54 L360.03,592.54 L360.36,592.54 L360.69,587.79 L361.02,592.54 L361.35,587.79 L361.68,587.79 L362.01,592.54 L362.34,587.79 L362.67,592.54 L363,592.54 L363.33,587.79 L363.66,592.54 L363.99,587.79 L364.32,587.79 L364.65,587.79 L364.98,592.54 L365.31,592.54 L365.64,592.54 L365.97,587.79 L366.3,587.79 L366.63,587.79 L366.96,592.54 L367.29,592.54 L367.62,592.54 L367.95,592.54 L368.28,587.79 L368.61,592.54 L368.94,587.79 L369.27,587.79 L369.6,592.54 L369.93,587.79 L370.26,587.79 L370.59,587.79 L370.92,587.79 L371.25,592.54 L371.58,592.54 L371.91,592.54 L372.24,592.54 L372.57,583.04 L372.9,583.04 L373.23,587.79 L373.56,587.79 L373.89,592.54 L374.22,587.79 L374.55,587.79 L374.88,587.79 L375.21,587.79 L375.54,587.79 L375.87,583.04 L376.2,583.04 L376.53,587.79 L376.86,583.04 L377.19,583.04 L377.52,583.04 L377.85,587.79 L378.18,583.04 L378.51,583.04 L378.84,587.79 L379.17,587.79 L379.5,583.04 L379.83,587.79 L380.16,587.79 L380.49,587.79 L380.82,587.79 L381.15,587.79 L381.48,583.04 L381.81,583.04 L382.14,583.04 L382.47,583.04 L382.8,583.04 L383.13,587.79 L383.46,583.04 L383.79,587.79 L384.12,583.04 L384.45,583.04 L384.78,587.79 L385.11,587.79 L385.44,583.04 L385.77,578.4 L386.1,578.4 L386.43,587.79 L386.76,583.04 L387.09,587.79 L387.42,583.04 L387.75,587.79 L388.08,583.04 L388.41,583.04 L388.74,583.04 L389.07,587.79 L389.4,583.04 L389.73,587.79 L390.06,583.04 L390.39,587.79 L390.72,587.79 L391.05,587.79 L391.38,587.79 L391.71,587.79 L392.04,587.79 L392.37,583.04 L392.7,587.79 L393.03,583.04 L393.36,587.79 L393.69,587.79 L394.02,587.79" fill="none" stroke="#bf00bf" stroke-width="2.08" stroke-linejoin="round"/>
<line x1="174.5" y1="709.5" x2="174.5" y2="704.64" stroke="#000" stroke-width="1.11"/>
<line x1="273.5" y1="709.5" x2="273.5" y2="704.64" stroke="#000" stroke-width="1.11"/>
<line x1="372.5" y1="709.5" x2="372.5" y2="704.64" stroke="#000" stroke-width="1.11"/>
<line x1="471.5" y1="709.5" x2="471.5" y2="704.64" stroke="#000" stroke-width="1.11"/>
<line x1="569.5" y1="709.5" x2="569.5" y2="704.64" stroke="#000" stroke-width="1.11"/>
<line x1="668.5" y1="709.5" x2="668.5" y2="704.64" stroke="#000" stroke-width="1.11"/>
<line x1="767.5" y1="709.5" x2="767.5" y2="704.64" stroke="#000" stroke-width="1.11"/>
<line x1="865.5" y1="709.5" x2="865.5" y2="704.64" stroke="#000" stroke-width="1.11"/>
<line x1="964.5" y1="709.5" x2="964.5" y2="704.64" stroke="#000" stroke-width="1.11"/>
<line x1="174.5" y1="619.5" x2="179.36" y2="619.5" stroke="#ff0000" stroke-width="1.11"/>
<line x1="174.5" y1="668.5" x2="179.36" y2="668.5" stroke="#ff0000" stroke-width="1.11"/>
<line x1="964.5" y1="575.5" x2="959.64" y2="575.5" stroke="#bf00bf" stroke-width="1.11"/>
<line x1="964.5" y1="635.5" x2="959.64" y2="635.5" stroke="#bf00bf" stroke-width="1.11"/>
<line x1="964.5" y1="695.5" x2="959.64" y2="695.5" stroke="#bf00bf" stroke-width="1.11"/>
<rect x="174.5" y="572.5" width="790.0" height="137" fill="none" stroke="#000" stroke-width="1.11"/>
<line x1="273.5" y1="752.5" x2="273.5" y2="890.5" stroke="#b0b0b0" stroke-width="1.11"/>
<line x1="372.5" y1="752.5" x2="372.5" y2="890.5" stroke="#b0b0b0" stroke-width="1.11"/>
<line x1="471.5" y1="752.5" x2="471.5" y2="890.5" stroke="#b0b0b0" stroke-width="1.11"/>
<line x1="569.5" y1="752.5" x2="569.5" y2="890.5" stroke="#b0b0b0" stroke-width="1.11"/>
<line x1="668.5" y1="752.5" x2="668.5" y2="890.5" stroke="#b0b0b0" stroke-width="1.11"/>
<line x1="767.5" y1="752.5" x2="767.5" y2="890.5" stroke="#b0b0b0" stroke-width="1.11"/>
<line x1="865.5" y1="752.5" x2="865.5" y2="890.5" stroke="#b0b0b0" stroke-width="1.11"/>
<line x1="174.5" y1="764.5" x2="964.5" y2="764.5" stroke="#b0b0b0" stroke-width="1.11"/>
<line x1="174.5" y1="821.5" x2="964.5" y2="821.5" stroke="#b0b0b0" stroke-width="1.11"/>
<line x1="174.5" y1="878.5" x2="964.5" y2="878.5" stroke="#b0b0b0" stroke-width="1.11"/>
<path d="M174.9,880 L174.9,762.1 L394.6,762.1 L394.6,880 L394.6,880 L393.3,879.7 L392,880 L390.7,880.2 L389.4,880.2 L388.1,880 L386.8,880 L385.5,880 L384.2,879.5 L382.9,880.2 L381.6,879.7 L380.3,879.5 L379,879.7 L377.7,880 L376.4,880 L375.1,879.5 L373.8,879.7 L372.5,879.5 L371.2,879.7 L369.9,880.2 L368.6,880.2 L367.3,880.2 L366,880 L364.7,879.7 L363.4,880 L362.1,880 L360.8,880 L359.5,879.7 L358.2,880 L356.9,880 L355.6,879.5 L354.3,879.7 L353,880.2 L351.7,880 L350.4,879.7 L349.1,880.2 L347.8,880 L346.5,880 L345.2,880.2 L343.9,880 L342.6,879.5 L341.3,880 L340,880 L338.7,879.7 L337.4,879.5 L336.1,879.5 L334.8,880 L333.5,880 L332.2,880 L330.9,880.2 L329.6,880 L328.3,880 L327,880 L325.7,879.7 L324.4,880 L323.1,880.2 L321.8,879.5 L320.5,880 L319.2,880 L317.9,880 L316.6,879.7 L315.3,879.7 L314,879.7 L312.7,879.5 L311.4,880 L310.1,880 L308.8,880 L307.5,879.5 L306.2,880.2 L304.9,880 L303.6,879.5 L302.3,880.2 L301,880 L299.7,879.5 L298.4,880.2 L297.1,880 L295.8,880.2 L294.5,880 L293.2,880 L291.9,880 L290.6,880.2 L289.3,880 L288,879.7 L286.7,880 L285.4,880 L284.1,880 L282.8,880 L281.5,880 L280.2,880 L278.9,879.5 L277.6,880 L276.3,880 L275,880 L273.7,880.2 L272.4,880.2 L271.1,880 L269.8,880 L268.5,879.7 L267.2,880.2 L265.9,880.2 L264.6,880 L263.3,879.7 L262,880 L260.7,880.2 L259.4,880 L258.1,880 L256.8,879.7 L255.5,880.2 L254.2,880 L252.9,880 L251.6,880 L250.3,879.5 L249,880 L247.7,879.5 L246.4,880.2 L245.1,880 L243.8,879.7 L242.5,880.2 L241.2,879.5 L239.9,880.2 L238.6,880 L237.3,879.5 L236,879.7 L234.7,880 L233.4,880.2 L232.1,879.5 L230.8,880 L229.5,879.7 L228.2,880.2 L226.9,880 L225.6,880.2 L224.3,879.7 L223,879.7 L221.7,880 L220.4,880 L219.1,880 L217.8,880 L216.5,880 L215.2,880 L213.9,880.2 L212.6,880.2 L211.3,879.7 L210,880.2 L208.7,879.7 L207.4,880 L206.1,880 L204.8,880 L203.5,880 L202.2,880 L200.9,880.2 L199.6,880 L198.3,879.7 L197,880 L195.7,880 L194.4,880 L193.1,880 L191.8,880 L190.5,880 L189.2,880 L187.9,880.2 L186.6,880 L185.3,880.2 L184,880 L182.7,879.7 L181.4,879.5 L180.1,880 L178.8,880.2 L177.5,879.7 L176.2,879.7 Z" fill="#bf00bf"/>
<line x1="174.5" y1="890.5" x2="174.5" y2="885.64" stroke="#000" stroke-width="1.11"/>
<line x1="273.5" y1="890.5" x2="273.5" y2="885.64" stroke="#000" stroke-width="1.11"/>
<line x1="372.5" y1="890.5" x2="372.5" y2="885.64" stroke="#000" stroke-width="1.11"/>
<line x1="471.5" y1="890.5" x2="471.5" y2="885.64" stroke="#000" stroke-width="1.11"/>
<line x1="569.5" y1="890.5" x2="569.5" y2="885.64" stroke="#000" stroke-width="1.11"/>
<line x1="668.5" y1="890.5" x2="668.5" y2="885.64" stroke="#000" stroke-width="1.11"/>
<line x1="767.5" y1="890.5" x2="767.5" y2="885.64" stroke="#000" stroke-width="1.11"/>
<line x1="865.5" y1="890.5" x2="865.5" y2="885.64" stroke="#000" stroke-width="1.11"/>
<line x1="964.5" y1="890.5" x2="964.5" y2="885.64" stroke="#000" stroke-width="1.11"/>
<rect x="174.5" y="752.5" width="790.0" height="138" fill="none" stroke="#000" stroke-width="1.11"/>
<line x1="273.5" y1="932.5" x2="273.5" y2="1070.5" stroke="#b0b0b0" stroke-width="1.11"/>
<line x1="372.5" y1="932.5" x2="372.5" y2="1070.5" stroke="#b0b0b0" stroke-width="1.11"/>
<line x1="471.5" y1="932.5" x2="471.5" y2="1070.5" stroke="#b0b0b0" stroke-width="1.11"/>
<line x1="569.5" y1="932.5" x2="569.5" y2="1070.5" stroke="#b0b0b0" stroke-width="1.11"/>
<line x1="668.5" y1="932.5" x2="668.5" y2="1070.5" stroke="#b0b0b0" stroke-width="1.11"/>
<line x1="767.5" y1="932.5" x2="767.5" y2="1070.5" stroke="#b0b0b0" stroke-width="1.11"/>
<line x1="865.5" y1="932.5" x2="865.5" y2="1070.5" stroke="#b0b0b0" stroke-width="1.11"/>
<line x1="174.5" y1="987.5" x2="964.5" y2="987.5" stroke="#b0b0b0" stroke-width="1.11"/>
<line x1="174.5" y1="1042.5" x2="964.5" y2="1042.5" stroke="#b0b0b0" stroke-width="1.11"/>
<rect x="174.9" y="932.5" width="219.5" height="1.3" fill="#bf00bf"/>
<path d="M174.9,1064.4 L210,1056 L240,1048.3 L270,1040 L300,1031.6 L330,1023.4 L360,1016 L380,1011.9 L394.3,1009.6" fill="none" stroke="#ff0000" stroke-width="2.5" stroke-linejoin="round"/>
<line x1="174.5" y1="1070.5" x2="174.5" y2="1065.64" stroke="#000" stroke-width="1.11"/>
<line x1="273.5" y1="1070.5" x2="273.5" y2="1065.64" stroke="#000" stroke-width="1.11"/>
<line x1="372.5" y1="1070.5" x2="372.5" y2="1065.64" stroke="#000" stroke-width="1.11"/>
<line x1="471.5" y1="1070.5" x2="471.5" y2="1065.64" stroke="#000" stroke-width="1.11"/>
<line x1="569.5" y1="1070.5" x2="569.5" y2="1065.64" stroke="#000" stroke-width="1.11"/>
<line x1="668.5" y1="1070.5" x2="668.5" y2="1065.64" stroke="#000" stroke-width="1.11"/>
<line x1="767.5" y1="1070.5" x2="767.5" y2="1065.64" stroke="#000" stroke-width="1.11"/>
<line x1="865.5" y1="1070.5" x2="865.5" y2="1065.64" stroke="#000" stroke-width="1.11"/>
<line x1="964.5" y1="1070.5" x2="964.5" y2="1065.64" stroke="#000" stroke-width="1.11"/>
<line x1="174.5" y1="932.5" x2="179.36" y2="932.5" stroke="#000" stroke-width="1.11"/>
<line x1="174.5" y1="987.5" x2="179.36" y2="987.5" stroke="#000" stroke-width="1.11"/>
<line x1="174.5" y1="1042.5" x2="179.36" y2="1042.5" stroke="#000" stroke-width="1.11"/>
<rect x="174.5" y="932.5" width="790.0" height="138" fill="none" stroke="#000" stroke-width="1.11"/>
<line x1="273.5" y1="1113.5" x2="273.5" y2="1251.5" stroke="#b0b0b0" stroke-width="1.11"/>
<line x1="372.5" y1="1113.5" x2="372.5" y2="1251.5" stroke="#b0b0b0" stroke-width="1.11"/>
<line x1="471.5" y1="1113.5" x2="471.5" y2="1251.5" stroke="#b0b0b0" stroke-width="1.11"/>
<line x1="569.5" y1="1113.5" x2="569.5" y2="1251.5" stroke="#b0b0b0" stroke-width="1.11"/>
<line x1="668.5" y1="1113.5" x2="668.5" y2="1251.5" stroke="#b0b0b0" stroke-width="1.11"/>
<line x1="767.5" y1="1113.5" x2="767.5" y2="1251.5" stroke="#b0b0b0" stroke-width="1.11"/>
<line x1="865.5" y1="1113.5" x2="865.5" y2="1251.5" stroke="#b0b0b0" stroke-width="1.11"/>
<line x1="174.5" y1="1182.5" x2="964.5" y2="1182.5" stroke="#b0b0b0" stroke-width="1.11"/>
<line x1="174.5" y1="1251.5" x2="174.5" y2="1246.64" stroke="#000" stroke-width="1.11"/>
<line x1="273.5" y1="1251.5" x2="273.5" y2="1246.64" stroke="#000" stroke-width="1.11"/>
<line x1="372.5" y1="1251.5" x2="372.5" y2="1246.64" stroke="#000" stroke-width="1.11"/>
<line x1="471.5" y1="1251.5" x2="471.5" y2="1246.64" stroke="#000" stroke-width="1.11"/>
<line x1="569.5" y1="1251.5" x2="569.5" y2="1246.64" stroke="#000" stroke-width="1.11"/>
<line x1="668.5" y1="1251.5" x2="668.5" y2="1246.64" stroke="#000" stroke-width="1.11"/>
<line x1="767.5" y1="1251.5" x2="767.5" y2="1246.64" stroke="#000" stroke-width="1.11"/>
<line x1="865.5" y1="1251.5" x2="865.5" y2="1246.64" stroke="#000" stroke-width="1.11"/>
<line x1="964.5" y1="1251.5" x2="964.5" y2="1246.64" stroke="#000" stroke-width="1.11"/>
<line x1="174.5" y1="1113.5" x2="179.36" y2="1113.5" stroke="#000" stroke-width="1.11"/>
<line x1="174.5" y1="1182.5" x2="179.36" y2="1182.5" stroke="#000" stroke-width="1.11"/>
<line x1="174.5" y1="1251.5" x2="179.36" y2="1251.5" stroke="#000" stroke-width="1.11"/>
<rect x="174.5" y="1113.5" width="790.0" height="138" fill="none" stroke="#000" stroke-width="1.11"/>
<line x1="273.5" y1="1293.5" x2="273.5" y2="1431.5" stroke="#b0b0b0" stroke-width="1.11"/>
<line x1="372.5" y1="1293.5" x2="372.5" y2="1431.5" stroke="#b0b0b0" stroke-width="1.11"/>
<line x1="471.5" y1="1293.5" x2="471.5" y2="1431.5" stroke="#b0b0b0" stroke-width="1.11"/>
<line x1="569.5" y1="1293.5" x2="569.5" y2="1431.5" stroke="#b0b0b0" stroke-width="1.11"/>
<line x1="668.5" y1="1293.5" x2="668.5" y2="1431.5" stroke="#b0b0b0" stroke-width="1.11"/>
<line x1="767.5" y1="1293.5" x2="767.5" y2="1431.5" stroke="#b0b0b0" stroke-width="1.11"/>
<line x1="865.5" y1="1293.5" x2="865.5" y2="1431.5" stroke="#b0b0b0" stroke-width="1.11"/>
<line x1="174.5" y1="1312.5" x2="964.5" y2="1312.5" stroke="#b0b0b0" stroke-width="1.11"/>
<line x1="174.5" y1="1362.5" x2="964.5" y2="1362.5" stroke="#b0b0b0" stroke-width="1.11"/>
<line x1="174.5" y1="1412.5" x2="964.5" y2="1412.5" stroke="#b0b0b0" stroke-width="1.11"/>
<line x1="174.9" y1="1362" x2="964.9" y2="1362" stroke="#ffd700" stroke-width="2.08" stroke-dasharray="7.71 3.33"/>
<line x1="174.5" y1="1431.5" x2="174.5" y2="1426.64" stroke="#000" stroke-width="1.11"/>
<line x1="273.5" y1="1431.5" x2="273.5" y2="1426.64" stroke="#000" stroke-width="1.11"/>
<line x1="372.5" y1="1431.5" x2="372.5" y2="1426.64" stroke="#000" stroke-width="1.11"/>
<line x1="471.5" y1="1431.5" x2="471.5" y2="1426.64" stroke="#000" stroke-width="1.11"/>
<line x1="569.5" y1="1431.5" x2="569.5" y2="1426.64" stroke="#000" stroke-width="1.11"/>
<line x1="668.5" y1="1431.5" x2="668.5" y2="1426.64" stroke="#000" stroke-width="1.11"/>
<line x1="767.5" y1="1431.5" x2="767.5" y2="1426.64" stroke="#000" stroke-width="1.11"/>
<line x1="865.5" y1="1431.5" x2="865.5" y2="1426.64" stroke="#000" stroke-width="1.11"/>
<line x1="964.5" y1="1431.5" x2="964.5" y2="1426.64" stroke="#000" stroke-width="1.11"/>
<line x1="174.5" y1="1312.5" x2="179.36" y2="1312.5" stroke="#000" stroke-width="1.11"/>
<line x1="174.5" y1="1412.5" x2="179.36" y2="1412.5" stroke="#000" stroke-width="1.11"/>
<line x1="964.5" y1="1293.5" x2="959.64" y2="1293.5" stroke="#000" stroke-width="1.11"/>
<line x1="964.5" y1="1362.5" x2="959.64" y2="1362.5" stroke="#000" stroke-width="1.11"/>
<line x1="964.5" y1="1431.5" x2="959.64" y2="1431.5" stroke="#000" stroke-width="1.11"/>
<rect x="174.5" y="1293.5" width="790.0" height="138" fill="none" stroke="#000" stroke-width="1.11"/>
</g>
<g id="labels">
<text transform="translate(153.48,170.88)" x="-15.56" y="5" font-size="22.83" textLength="31.12" lengthAdjust="spacingAndGlyphs">0.0</text>
<text transform="translate(153.48,101.99)" x="-15.56" y="5" font-size="22.83" textLength="31.12" lengthAdjust="spacingAndGlyphs">0.5</text>
<text transform="translate(153.48,33.1)" x="-15.56" y="5" font-size="22.83" textLength="31.12" lengthAdjust="spacingAndGlyphs">1.0</text>
<text transform="translate(121.36,99.99) rotate(-90)" x="-64.88" y="5" font-size="22.83" textLength="126.75" lengthAdjust="spacingAndGlyphs">angle (deg.)</text>
<text transform="translate(162.91,334.02)" x="-7.12" y="5" font-size="22.83" textLength="14.25" lengthAdjust="spacingAndGlyphs" fill="#ff0000">Z</text>
<text transform="translate(142.23,299.57)" x="-26.81" y="5" font-size="22.83" textLength="53.62" lengthAdjust="spacingAndGlyphs" fill="#ff0000">Open</text>
<text transform="translate(145.35,265.13)" x="-23.69" y="5" font-size="22.83" textLength="47.38" lengthAdjust="spacingAndGlyphs" fill="#ff0000">Dark</text>
<text transform="translate(155.16,230.68)" x="-13.88" y="5" font-size="22.83" textLength="27.75" lengthAdjust="spacingAndGlyphs" fill="#ff0000">NB</text>
<text transform="translate(98.86,280.35) rotate(-90)" x="-34.56" y="6.5" font-size="22.83" textLength="65.12" lengthAdjust="spacingAndGlyphs" fill="#ff0000">Filter0</text>
<g transform="translate(109.43,530.86)">
<text x="-59.25" y="6.75" font-size="22.83" textLength="44.98" lengthAdjust="spacingAndGlyphs">5.38</text>
<text x="-1.46" y="6.75" font-size="25.57" text-anchor="middle">×</text>
<text x="11.36" y="6.75" font-size="22.83" textLength="26.56" lengthAdjust="spacingAndGlyphs">10</text>
<text x="38.12" y="-1.78" font-size="15.98" textLength="21.55" lengthAdjust="spacingAndGlyphs">−6</text>
</g>
<g transform="translate(116.07,509.71)">
<text x="-52.61" y="6.75" font-size="22.83" textLength="31.7" lengthAdjust="spacingAndGlyphs">5.4</text>
<text x="-8.1" y="6.75" font-size="25.57" text-anchor="middle">×</text>
<text x="4.72" y="6.75" font-size="22.83" textLength="26.56" lengthAdjust="spacingAndGlyphs">10</text>
<text x="31.48" y="-1.78" font-size="15.98" textLength="21.55" lengthAdjust="spacingAndGlyphs">−6</text>
</g>
<g transform="translate(109.43,488.63)">
<text x="-59.25" y="6.75" font-size="22.83" textLength="44.98" lengthAdjust="spacingAndGlyphs">5.42</text>
<text x="-1.46" y="6.75" font-size="25.57" text-anchor="middle">×</text>
<text x="11.36" y="6.75" font-size="22.83" textLength="26.56" lengthAdjust="spacingAndGlyphs">10</text>
<text x="38.12" y="-1.78" font-size="15.98" textLength="21.55" lengthAdjust="spacingAndGlyphs">−6</text>
</g>
<g transform="translate(109.43,467.64)">
<text x="-59.25" y="6.75" font-size="22.83" textLength="44.98" lengthAdjust="spacingAndGlyphs">5.44</text>
<text x="-1.46" y="6.75" font-size="25.57" text-anchor="middle">×</text>
<text x="11.36" y="6.75" font-size="22.83" textLength="26.56" lengthAdjust="spacingAndGlyphs">10</text>
<text x="38.12" y="-1.78" font-size="15.98" textLength="21.55" lengthAdjust="spacingAndGlyphs">−6</text>
</g>
<g transform="translate(109.43,446.72)">
<text x="-59.25" y="6.75" font-size="22.83" textLength="44.98" lengthAdjust="spacingAndGlyphs">5.46</text>
<text x="-1.46" y="6.75" font-size="25.57" text-anchor="middle">×</text>
<text x="11.36" y="6.75" font-size="22.83" textLength="26.56" lengthAdjust="spacingAndGlyphs">10</text>
<text x="38.12" y="-1.78" font-size="15.98" textLength="21.55" lengthAdjust="spacingAndGlyphs">−6</text>
</g>
<g transform="translate(109.43,425.87)">
<text x="-59.25" y="6.75" font-size="22.83" textLength="44.98" lengthAdjust="spacingAndGlyphs">5.48</text>
<text x="-1.46" y="6.75" font-size="25.57" text-anchor="middle">×</text>
<text x="11.36" y="6.75" font-size="22.83" textLength="26.56" lengthAdjust="spacingAndGlyphs">10</text>
<text x="38.12" y="-1.78" font-size="15.98" textLength="21.55" lengthAdjust="spacingAndGlyphs">−6</text>
</g>
<g transform="translate(116.07,405.11)">
<text x="-52.61" y="6.75" font-size="22.83" textLength="31.7" lengthAdjust="spacingAndGlyphs">5.5</text>
<text x="-8.1" y="6.75" font-size="25.57" text-anchor="middle">×</text>
<text x="4.72" y="6.75" font-size="22.83" textLength="26.56" lengthAdjust="spacingAndGlyphs">10</text>
<text x="31.48" y="-1.78" font-size="15.98" textLength="21.55" lengthAdjust="spacingAndGlyphs">−6</text>
</g>
<text transform="translate(33.13,460.71) rotate(-90)" x="-85.44" y="5" font-size="22.83" textLength="167.88" lengthAdjust="spacingAndGlyphs">pressure (mbar)</text>
<rect x="1050.84" y="398.76" width="184.76" height="25.11" rx="2.8" fill="#fff" fill-opacity="0.8" stroke="#ccc" stroke-opacity="0.8" stroke-width="1.39"/>
<text transform="translate(1160.24,411.32)" x="-69.15" y="4.3" font-size="15.22" textLength="138.29" lengthAdjust="spacingAndGlyphs">Pressure Instrument</text>
<line x1="1054.9" y1="409.86" x2="1084.03" y2="409.86" stroke="#ff0000" stroke-width="2.08"/>
<text transform="translate(149.66,670.9)" x="-18.88" y="5" font-size="22.83" textLength="37.75" lengthAdjust="spacingAndGlyphs" fill="#ff0000">230</text>
<text transform="translate(149.36,622.1)" x="-18.88" y="5" font-size="22.83" textLength="37.75" lengthAdjust="spacingAndGlyphs" fill="#ff0000">235</text>
<text transform="translate(114.73,641.07) rotate(-90)" x="-55.56" y="5" font-size="22.83" textLength="108.12" lengthAdjust="spacingAndGlyphs" fill="#ff0000">power (W)</text>
<rect x="1050.84" y="579.12" width="204.89" height="25.11" rx="2.8" fill="#fff" fill-opacity="0.8" stroke="#ccc" stroke-opacity="0.8" stroke-width="1.39"/>
<text transform="translate(1170.3,591.68)" x="-79.21" y="4.3" font-size="15.22" textLength="158.42" lengthAdjust="spacingAndGlyphs">Cryo1 Power Measured</text>
<line x1="1054.9" y1="590.22" x2="1084.03" y2="590.22" stroke="#ff0000" stroke-width="2.08"/>
<text transform="translate(140.23,880.5)" x="-28.81" y="5" font-size="22.83" textLength="57.62" lengthAdjust="spacingAndGlyphs">0.000</text>
<text transform="translate(140.23,823.5)" x="-28.81" y="5" font-size="22.83" textLength="57.62" lengthAdjust="spacingAndGlyphs">0.005</text>
<text transform="translate(140.23,766.5)" x="-28.81" y="5" font-size="22.83" textLength="57.62" lengthAdjust="spacingAndGlyphs">0.010</text>
<text transform="translate(94.86,821.43) rotate(-90)" x="-47.62" y="5" font-size="22.83" textLength="92.25" lengthAdjust="spacingAndGlyphs">Temp (K)</text>
<text transform="translate(226.71,742.37)" x="-50.81" y="5" font-size="22.83" textLength="101.62" lengthAdjust="spacingAndGlyphs">+7.599e1</text>
<rect x="1050.84" y="759.48" width="197.76" height="46.06" rx="2.8" fill="#fff" fill-opacity="0.8" stroke="#ccc" stroke-opacity="0.8" stroke-width="1.39"/>
<text transform="translate(1155.49,772.04)" x="-64.4" y="4.3" font-size="15.22" textLength="128.79" lengthAdjust="spacingAndGlyphs">Cryo1 Target Temp</text>
<text transform="translate(1166.74,792.98)" x="-75.65" y="4.3" font-size="15.22" textLength="151.29" lengthAdjust="spacingAndGlyphs">Cryo1 Coldhead Temp</text>
<line x1="1054.9" y1="770.58" x2="1084.03" y2="770.58" stroke="#ff0000" stroke-width="2.08"/>
<line x1="1054.9" y1="791.52" x2="1084.03" y2="791.52" stroke="#bf00bf" stroke-width="2.08"/>
<text transform="translate(150.16,1045.3)" x="-18.88" y="5" font-size="22.83" textLength="37.75" lengthAdjust="spacingAndGlyphs">114</text>
<text transform="translate(150.16,990.1)" x="-18.88" y="5" font-size="22.83" textLength="37.75" lengthAdjust="spacingAndGlyphs">115</text>
<text transform="translate(150.1,935.5)" x="-18.94" y="5" font-size="22.83" textLength="37.88" lengthAdjust="spacingAndGlyphs">116</text>
<text transform="translate(114.61,1001.79) rotate(-90)" x="-47.62" y="5" font-size="22.83" textLength="92.25" lengthAdjust="spacingAndGlyphs">Temp (K)</text>
<rect x="1050.84" y="939.84" width="105.76" height="46.06" rx="2.8" fill="#fff" fill-opacity="0.8" stroke="#ccc" stroke-opacity="0.8" stroke-width="1.39"/>
<text transform="translate(1113.87,952.4)" x="-22.77" y="4.3" font-size="15.22" textLength="45.54" lengthAdjust="spacingAndGlyphs">Acadia</text>
<text transform="translate(1120.74,973.34)" x="-29.65" y="4.3" font-size="15.22" textLength="59.29" lengthAdjust="spacingAndGlyphs">Detector</text>
<line x1="1054.9" y1="950.94" x2="1084.03" y2="950.94" stroke="#ff0000" stroke-width="2.08"/>
<line x1="1054.9" y1="971.88" x2="1084.03" y2="971.88" stroke="#bf00bf" stroke-width="2.08"/>
<text transform="translate(153.48,1253.94)" x="-15.56" y="5" font-size="22.83" textLength="31.12" lengthAdjust="spacingAndGlyphs">0.0</text>
<text transform="translate(153.48,1185.05)" x="-15.56" y="5" font-size="22.83" textLength="31.12" lengthAdjust="spacingAndGlyphs">0.5</text>
<text transform="translate(153.48,1116.16)" x="-15.56" y="5" font-size="22.83" textLength="31.12" lengthAdjust="spacingAndGlyphs">1.0</text>
<g transform="translate(120.16,1182.15) rotate(-90)">
<text x="-53.43" y="3.94" font-size="22.83" textLength="73.96" lengthAdjust="spacingAndGlyphs">Temp (</text>
<text x="22.01" y="1" font-size="18.52">°</text>
<text x="30.46" y="3.94" font-size="22.83" textLength="22.72" lengthAdjust="spacingAndGlyphs">C)</text>
</g>
<text transform="translate(153.54,1414.91)" x="-15.5" y="5" font-size="22.83" textLength="31" lengthAdjust="spacingAndGlyphs">4.8</text>
<text transform="translate(153.48,1365.01)" x="-15.56" y="5" font-size="22.83" textLength="31.12" lengthAdjust="spacingAndGlyphs">5.0</text>
<text transform="translate(153.48,1315.31)" x="-15.56" y="5" font-size="22.83" textLength="31.12" lengthAdjust="spacingAndGlyphs">5.2</text>
<text transform="translate(174.9,1457.1) rotate(-10)" x="-62.31" y="5" font-size="22.83" textLength="124.62" lengthAdjust="spacingAndGlyphs">10/30 12:00</text>
<text transform="translate(273.65,1457.1) rotate(-10)" x="-62.31" y="5" font-size="22.83" textLength="124.62" lengthAdjust="spacingAndGlyphs">10/30 15:00</text>
<text transform="translate(372.4,1457.09) rotate(-10)" x="-62.25" y="5" font-size="22.83" textLength="124.5" lengthAdjust="spacingAndGlyphs">10/30 18:00</text>
<text transform="translate(471.15,1457.1) rotate(-10)" x="-62.31" y="5" font-size="22.83" textLength="124.62" lengthAdjust="spacingAndGlyphs">10/30 21:00</text>
<text transform="translate(569.9,1457.1) rotate(-10)" x="-62.31" y="5" font-size="22.83" textLength="124.62" lengthAdjust="spacingAndGlyphs">10/31 00:00</text>
<text transform="translate(668.65,1457.1) rotate(-10)" x="-62.31" y="5" font-size="22.83" textLength="124.62" lengthAdjust="spacingAndGlyphs">10/31 03:00</text>
<text transform="translate(767.4,1457.11) rotate(-10)" x="-62.38" y="5" font-size="22.83" textLength="124.75" lengthAdjust="spacingAndGlyphs">10/31 06:00</text>
<text transform="translate(866.15,1457.11) rotate(-10)" x="-62.38" y="5" font-size="22.83" textLength="124.75" lengthAdjust="spacingAndGlyphs">10/31 09:00</text>
<text transform="translate(964.9,1457.1) rotate(-10)" x="-62.31" y="5" font-size="22.83" textLength="124.62" lengthAdjust="spacingAndGlyphs">10/31 12:00</text>
<g transform="translate(121.16,1362.51) rotate(-90)">
<text x="-76.44" y="4.45" font-size="22.83" textLength="119.98" lengthAdjust="spacingAndGlyphs">Dew Point (</text>
<text x="45.02" y="1.51" font-size="18.52">°</text>
<text x="53.47" y="4.45" font-size="22.83" textLength="22.72" lengthAdjust="spacingAndGlyphs">C)</text>
</g>
<text transform="translate(976.2,334.02)" x="-6.44" y="5" font-size="22.83" textLength="12.88" lengthAdjust="spacingAndGlyphs" fill="#bf00bf">Y</text>
<text transform="translate(968.26,308.87) scale(0.6,1.267)" font-size="22.83" fill="#bf00bf">J</text>
<text transform="translate(997.57,265.13)" x="-27.81" y="5" font-size="22.83" textLength="53.62" lengthAdjust="spacingAndGlyphs" fill="#bf00bf">Open</text>
<text transform="translate(977.57,230.68)" x="-7.81" y="5" font-size="22.83" textLength="15.62" lengthAdjust="spacingAndGlyphs" fill="#bf00bf">H</text>
<text transform="translate(1040.94,280.35) rotate(-90)" x="-34.56" y="6.5" font-size="22.83" textLength="65.12" lengthAdjust="spacingAndGlyphs" fill="#bf00bf">Filter1</text>
<text transform="translate(992.95,697.5)" x="-23.19" y="5" font-size="22.83" textLength="44.38" lengthAdjust="spacingAndGlyphs" fill="#bf00bf">20.5</text>
<text transform="translate(992.95,637.5)" x="-23.19" y="5" font-size="22.83" textLength="44.38" lengthAdjust="spacingAndGlyphs" fill="#bf00bf">21.0</text>
<text transform="translate(992.95,577.5)" x="-23.19" y="5" font-size="22.83" textLength="44.38" lengthAdjust="spacingAndGlyphs" fill="#bf00bf">21.5</text>
<g transform="translate(1033.69,641.07) rotate(-90)" fill="#bf00bf">
<text x="-53.43" y="3.94" font-size="22.83" textLength="73.96" lengthAdjust="spacingAndGlyphs">Temp (</text>
<text x="22.01" y="1" font-size="18.52">°</text>
<text x="30.46" y="3.94" font-size="22.83" textLength="22.72" lengthAdjust="spacingAndGlyphs">C)</text>
</g>
<rect x="1050.84" y="608.47" width="175.14" height="25.11" rx="2.8" fill="#fff" fill-opacity="0.8" stroke="#ccc" stroke-opacity="0.8" stroke-width="1.39"/>
<text transform="translate(1155.43,621.03)" x="-64.33" y="4.3" font-size="15.22" textLength="128.67" lengthAdjust="spacingAndGlyphs">Cryo1 Reject Temp</text>
<line x1="1054.9" y1="619.57" x2="1084.03" y2="619.57" stroke="#bf00bf" stroke-width="2.08"/>
<text transform="translate(986.32,1433.4)" x="-16.56" y="5" font-size="22.83" textLength="31.12" lengthAdjust="spacingAndGlyphs">0.0</text>
<text transform="translate(986.32,1364.51)" x="-16.56" y="5" font-size="22.83" textLength="31.12" lengthAdjust="spacingAndGlyphs">0.5</text>
<text transform="translate(986.32,1295.62)" x="-16.56" y="5" font-size="22.83" textLength="31.12" lengthAdjust="spacingAndGlyphs">1.0</text>
<text transform="translate(1018.44,1362.51) rotate(-90)" x="-70.06" y="5" font-size="22.83" textLength="137.12" lengthAdjust="spacingAndGlyphs">Humidity (%)</text>
</g>
</svg>
</body></html>
